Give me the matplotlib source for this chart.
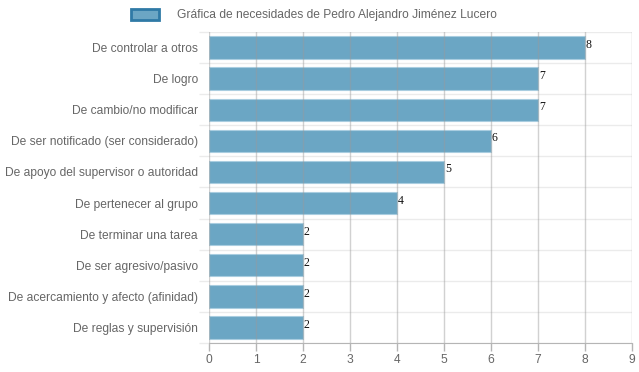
import matplotlib
matplotlib.use("Agg")
import matplotlib.pyplot as plt
from matplotlib.patches import Patch
import numpy as np

categories = [
    "De controlar a otros",
    "De logro",
    "De cambio/no modificar",
    "De ser notificado (ser considerado)",
    "De apoyo del supervisor o autoridad",
    "De pertenecer al grupo",
    "De terminar una tarea",
    "De ser agresivo/pasivo",
    "De acercamiento y afecto (afinidad)",
    "De reglas y supervisión",
]
values = [8, 7, 7, 6, 5, 4, 2, 2, 2, 2]
xticks = [0, 1, 2, 3, 4, 5, 6, 7, 8, 9]
legend_label = "Gráfica de necesidades de Pedro Alejandro Jiménez Lucero"

plt.rcParams['font.family'] = ['Liberation Sans', 'DejaVu Sans']
FS = 8.64

fig = plt.figure(figsize=(6.39, 3.72), dpi=100)
W, H = 639, 372
left, right, top, bottom = 209, 632, 32, 343
ax = fig.add_axes([left / W, 1 - bottom / H, (right - left) / W, (bottom - top) / H])

n = len(categories)
y = np.arange(n)
ax.barh(y, values, height=0.72, color='#6ba6c4', edgecolor='#a9cde0', linewidth=0.8, zorder=2)
ax.set_ylim(n - 0.5, -0.5)
ax.set_xlim(0, 9)
ax.set_xticks(xticks)
ax.set_xticklabels([str(t) for t in xticks])
ax.set_yticks(y)
ax.set_yticklabels(categories)
ax.set_yticks(np.arange(-0.5, n, 1.0), minor=True)

# vertical grid over bars
for t in xticks:
    ax.axvline(t, color='#9a9a9a', alpha=0.45, linewidth=1, zorder=3)
# horizontal light grid between categories
for b in np.arange(-0.5, n, 1.0):
    ax.axhline(b, color='#ebebeb', linewidth=1, zorder=1)

for sp in ['top', 'right', 'left']:
    ax.spines[sp].set_visible(False)
ax.spines['bottom'].set_color('#b5b5b5')
ax.tick_params(axis='x', colors='#b5b5b5', labelcolor='#666666', labelsize=FS, length=6, width=1, pad=2)
ax.tick_params(axis='y', which='major', labelcolor='#666666', labelsize=FS, length=0, pad=8)
ax.tick_params(axis='y', which='minor', colors='#ebebeb', length=7, width=1)

for yi, v in zip(y, values):
    ax.text(v + 0.02, yi - 0.08, str(v), family='Liberation Serif', fontsize=8.5,
            color='#111111', ha='left', va='center', zorder=4)

handle = Patch(facecolor='#6ba6c4', edgecolor='#2f7aa6', linewidth=2)
fig.legend([handle], [legend_label], loc='center', bbox_to_anchor=(0.491, 1 - 15 / H),
           frameon=False, fontsize=FS, labelcolor='#666666', handlelength=2.3, handleheight=1.0,
           handletextpad=1.5)

fig.savefig('out.png', dpi=100)
